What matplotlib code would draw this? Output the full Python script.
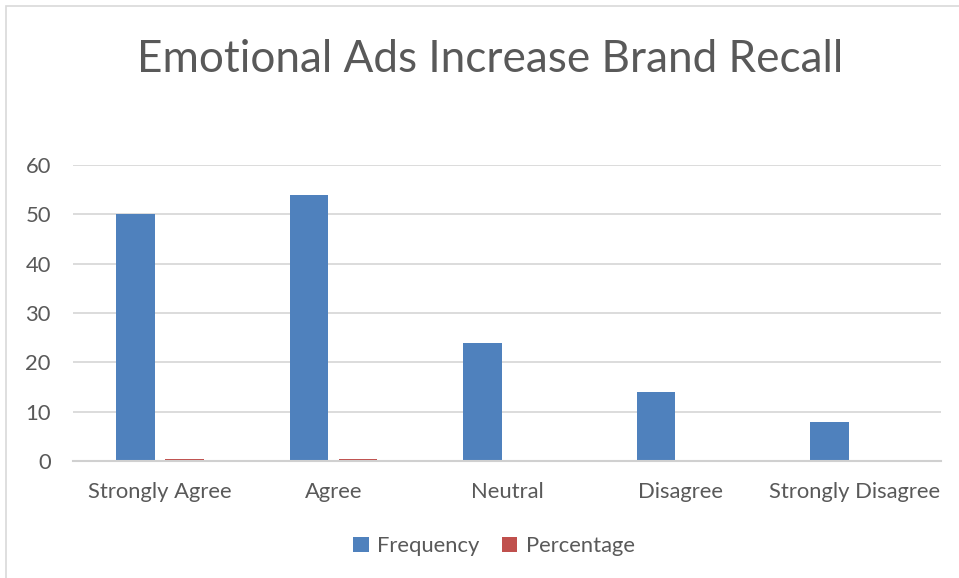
import matplotlib.pyplot as plt
import numpy as np
from matplotlib.patches import Rectangle

# Data
categories = ["Strongly Agree", "Agree", "Neutral", "Disagree", "Strongly Disagree"]
frequency = [50, 54, 24, 14, 8]
percentage = [0.33, 0.36, 0.16, 0.09, 0.05]

BLUE = "#4F81BD"
RED = "#C0504D"
TEXT = "#595959"
GRID = "#D9D9D9"

plt.rcParams['font.family'] = ['Lato', 'DejaVu Sans']

fig = plt.figure(figsize=(9.59, 5.78), dpi=100)
fig.patches.append(Rectangle((6 / 959, -0.01), 1.0, 1 - 6 / 578 + 0.01,
                             transform=fig.transFigure, fill=False,
                             edgecolor=GRID, linewidth=1.2))

ax = fig.add_axes([73 / 959, 1 - 461 / 578, (941 - 73) / 959, (461 - 165) / 578])

x = np.arange(len(categories))
w = 0.222
ax.bar(x - 0.141, frequency, w, color=BLUE, label="Frequency", zorder=3)
ax.bar(x + 0.141, percentage, w, color=RED, label="Percentage", zorder=3)

ax.set_xlim(-0.5, len(categories) - 0.5)
ax.set_ylim(0, 60)
ax.set_yticks(range(0, 61, 10))
ax.set_xticks(x)
ax.set_xticklabels(categories)
ax.tick_params(axis="both", length=0, colors=TEXT, labelsize=15.8)
ax.tick_params(axis="x", pad=15)
ax.tick_params(axis="y", pad=16)
ax.grid(axis="y", color=GRID, linewidth=1.3, zorder=0)
for s in ["top", "right", "left"]:
    ax.spines[s].set_visible(False)
ax.spines["bottom"].set_color("#D0D0D0")
ax.spines["bottom"].set_linewidth(1.5)
ax.spines["bottom"].set_zorder(4)

fig.text(490 / 959, 1 - 60 / 578, "Emotional Ads Increase Brand Recall",
         ha="center", va="center", fontsize=31.8, color=TEXT)

leg = ax.legend(loc="center", bbox_to_anchor=(494 / 959, 1 - 546 / 578),
                bbox_transform=fig.transFigure, ncol=2, frameon=False,
                fontsize=15.8, handlelength=0.7, handleheight=0.7,
                handletextpad=0.4, columnspacing=1.0)
for t in leg.get_texts():
    t.set_color(TEXT)

fig.savefig("out.png", dpi=100)
